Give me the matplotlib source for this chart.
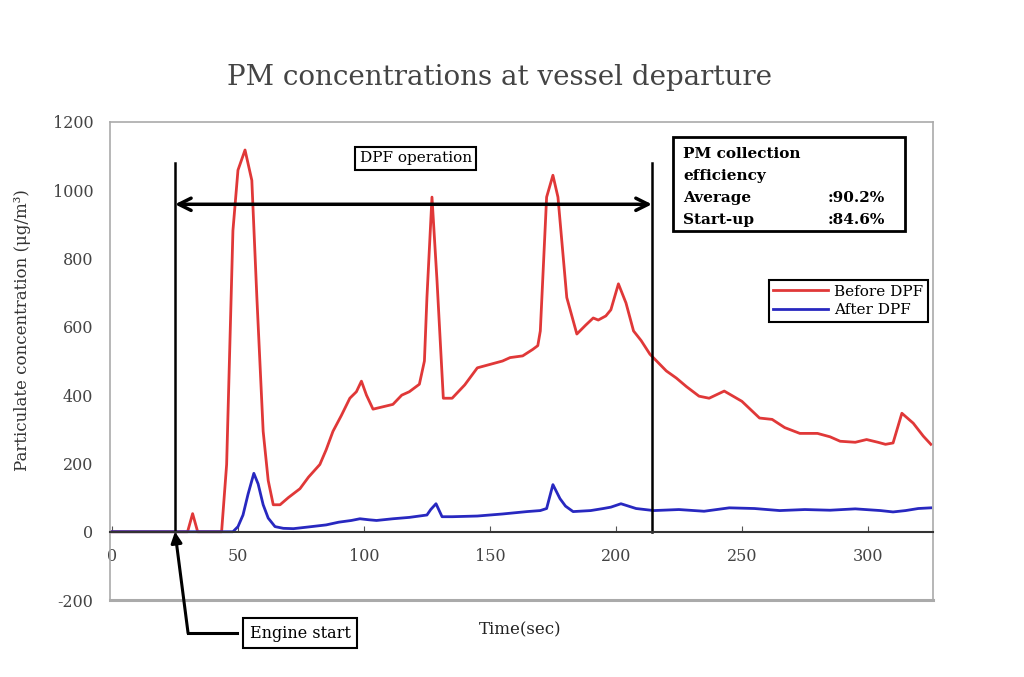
import matplotlib.pyplot as plt
from matplotlib.patches import Rectangle

# values
before_t = [0, 30, 32, 34, 43.5, 45.5, 48, 50, 52.8, 55.5, 57.5, 60, 62, 64, 66.7, 70, 74.6, 78,
            82.5, 85, 87.7, 91, 94.4, 97, 99, 101, 103.6, 107, 111.5, 115, 118, 122, 124, 125,
            127, 129, 131.5, 135, 140, 145, 150, 155, 158, 163, 167, 169, 170, 172.5, 175, 177,
            180.5, 184.5, 188, 191, 193, 196, 198, 201, 204, 207, 210, 213.5, 220, 224, 228,
            233, 237, 243, 250, 257, 262, 267, 273, 280, 285, 289, 295, 299.5, 304, 307, 310,
            313.5, 318, 322, 325]
before_pm = [0, 0, 53, 0, 0, 197, 882, 1059, 1118, 1029, 686, 294, 150, 79, 79, 100, 126, 160,
             197, 240, 294, 340, 391, 410, 441, 400, 359, 365, 373, 400, 410, 432, 500, 686,
             980, 735, 391, 391, 430, 480, 490, 500, 510, 515, 534, 545, 588, 980, 1044, 980,
             686, 579, 605, 626, 620, 632, 650, 726, 670, 588, 560, 520, 471, 450, 425,
             397, 391, 412, 382, 333, 329, 305, 288, 288, 278, 265, 262, 270, 262, 256, 260,
             347, 318, 280, 256]

after_t = [0, 48, 50, 52, 54, 56.3, 58, 60, 62, 64.7, 68, 72, 78, 85, 90, 95, 98.4, 102, 105,
           111.5, 118, 125, 126.5, 128.6, 131, 135, 145, 155, 164.7, 170, 172.5, 175, 177.8,
           180, 183, 190, 195, 198, 202, 205, 208, 215, 225, 235, 245, 255, 265, 275, 285,
           295, 305, 310, 315, 320, 325]
after_pm = [0, 0, 15, 49, 110, 171, 140, 79, 40, 15, 10, 9, 14, 20, 28, 33, 38, 35, 33,
            38, 42, 49, 65, 82, 44, 44, 46, 52, 59, 62, 68, 138, 97,
            75, 59, 62, 68, 72, 82, 75, 68, 62, 65, 60, 70, 68, 62, 65, 63,
            67, 62, 58, 62, 68, 70]

x_ticks = [0, 50, 100, 150, 200, 250, 300]
y_ticks = [-200, 0, 200, 400, 600, 800, 1000, 1200]

t_start = 25
t_end = 214.3

plt.rcParams['font.family'] = ['DejaVu Serif']
plt.rcParams['axes.unicode_minus'] = False

fig = plt.figure(figsize=(10.24, 6.77), dpi=100)
ax = fig.add_axes([0.1074, 0.1137, 0.8036, 0.7061])

ax.plot(before_t, before_pm, color='#e03838', lw=2, label='Before DPF')
ax.plot(after_t, after_pm, color='#2828c0', lw=2, label='After DPF')

ax.set_xlim(-0.8, 325.8)
ax.set_ylim(-200, 1200)
ax.set_xticks(x_ticks)
ax.set_yticks(y_ticks)

for s in ['top', 'left', 'right']:
    ax.spines[s].set_color('#aaaaaa')
    ax.spines[s].set_linewidth(1.2)
ax.spines['bottom'].set_position(('data', 0))
ax.spines['bottom'].set_color('#333333')
ax.spines['bottom'].set_linewidth(1.5)
ax.axhline(-200, color='#aaaaaa', lw=2.2, clip_on=False)

ax.tick_params(axis='x', direction='in', length=4, pad=12, labelsize=11.5,
               labelcolor='#444444', color='#555555')
ax.tick_params(axis='y', length=0, pad=12, labelsize=11.5, labelcolor='#444444')

# DPF operation period
ax.plot([t_start, t_start], [0, 1079], color='black', lw=1.8)
ax.plot([t_end, t_end], [0, 1079], color='black', lw=1.8)
ax.annotate('', xy=(t_start, 959), xytext=(t_end, 959),
            arrowprops=dict(arrowstyle='<->', lw=2.5, color='black', mutation_scale=22,
                            shrinkA=0, shrinkB=0))
ax.text(120.6, 1094, 'DPF operation', ha='center', va='center', fontsize=11,
        bbox=dict(boxstyle='square,pad=0.3', fc='white', ec='black', lw=1.5))

# efficiency box
ax.add_patch(Rectangle((222.6, 882), 92, 274, fill=False, ec='black', lw=2))
ax.text(226.6, 1105, 'PM collection', fontsize=11, fontweight='bold', va='center')
ax.text(226.6, 1041, 'efficiency', fontsize=11, fontweight='bold', va='center')
ax.text(226.6, 976, 'Average', fontsize=11, fontweight='bold', va='center')
ax.text(226.6, 914, 'Start-up', fontsize=11, fontweight='bold', va='center')
ax.text(284, 976, ':90.2%', fontsize=11, fontweight='bold', va='center')
ax.text(284, 914, ':84.6%', fontsize=11, fontweight='bold', va='center')

# engine start
ax.plot([30.2, 49.6], [-297, -297], color='black', lw=2.2, clip_on=False)
ax.annotate('', xy=(t_start, 0), xytext=(30.2, -297), annotation_clip=False,
            arrowprops=dict(arrowstyle='-|>', lw=2.2, color='black', mutation_scale=16,
                            shrinkA=0, shrinkB=0))
ax.text(74.6, -297, 'Engine start', ha='center', va='center', fontsize=11.5, clip_on=False,
        bbox=dict(boxstyle='square,pad=0.4', fc='white', ec='black', lw=1.5))

leg = ax.legend(loc='upper right', bbox_to_anchor=(0.994, 0.669), fancybox=False,
                edgecolor='black', framealpha=1, fontsize=11, handlelength=3.6,
                borderpad=0.3, labelspacing=0.3, handletextpad=0.4, borderaxespad=0)
leg.get_frame().set_linewidth(1.5)

fig.text(0.488, 0.886, 'PM concentrations at vessel departure', ha='center', va='center',
         fontsize=20, color='#444444')
fig.text(0.508, 0.069, 'Time(sec)', ha='center', va='center', fontsize=12, color='#222222')
fig.text(0.0215, 0.5126, 'Particulate concentration (\u03bcg/m\u00b3)', ha='center',
         va='center', rotation=90, fontsize=12, color='#333333')

fig.savefig('out.png', dpi=100)
